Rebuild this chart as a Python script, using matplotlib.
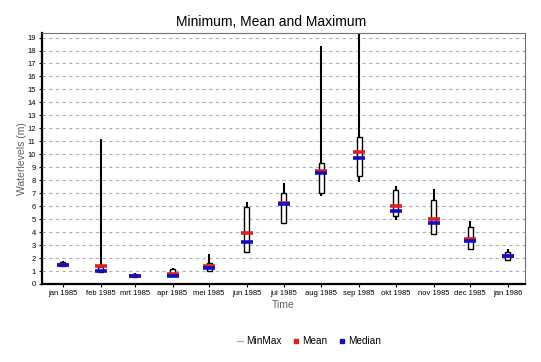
import datetime as dt
import matplotlib
matplotlib.use("Agg")
import matplotlib.pyplot as plt
import matplotlib.dates as mdates
from matplotlib.lines import Line2D

plt.rcParams["font.family"] = ["Liberation Sans", "DejaVu Sans"]

months = [dt.date(1985, m, 1) for m in range(1, 13)] + [dt.date(1986, 1, 1)]
labels = ["jan 1985", "feb 1985", "mrt 1985", "apr 1985", "mei 1985", "jun 1985",
          "jul 1985", "aug 1985", "sep 1985", "okt 1985", "nov 1985", "dec 1985",
          "jan 1986"]
vmin = [1.3, 0.9, 0.5, 0.55, 1.0, 2.37, 4.63, 6.8, 7.9, 4.94, 3.8, 2.65, 1.8]
vmax = [1.75, 11.15, 0.87, 1.2, 2.3, 6.33, 7.77, 18.35, 21.0, 7.52, 7.36, 4.84, 2.68]
q_low = [1.35, 0.95, 0.55, 0.6, 1.03, 2.5, 4.74, 7.0, 8.29, 5.25, 3.86, 2.68, 1.85]
q_high = [1.7, 1.3, 0.75, 1.15, 1.6, 5.97, 7.05, 9.32, 11.35, 7.26, 6.49, 4.38, 2.5]
mean = [1.5, 1.39, 0.62, 0.75, 1.39, 3.96, 6.25, 8.7, 10.14, 6.05, 4.99, 3.5, 2.16]
median = [1.45, 1.0, 0.6, 0.65, 1.26, 3.27, 6.15, 8.52, 9.73, 5.61, 4.74, 3.35, 2.14]

x = mdates.date2num(months)

fig = plt.figure(figsize=(5.41, 3.62), dpi=100)
ax = fig.add_axes([42 / 541, 1 - 284 / 362, (525 - 42) / 541, (284 - 33) / 362])

ax.vlines(x, vmin, vmax, color="black", lw=1.5, zorder=2)
ax.bar(x, [h - l for h, l in zip(q_high, q_low)], bottom=q_low, width=4,
       color="white", edgecolor="black", lw=1, zorder=3)
ax.plot(x, mean, ls="none", marker="_", ms=8.5, mew=2.6, color="#e02020", zorder=4)
ax.plot(x, median, ls="none", marker="_", ms=8.5, mew=2.6, color="#1010c0", zorder=5)

ax.set_xlim(mdates.date2num(dt.date(1984, 12, 15)), mdates.date2num(dt.date(1986, 1, 15)))
ax.set_ylim(0, 19.35)
ax.set_yticks(range(0, 20))
ax.set_xticks(x)
ax.set_xticklabels(labels)
ax.tick_params(labelsize=5.5, length=2.5, width=0.8, pad=2, colors="black")
ax.yaxis.grid(True, ls=(0, (3, 3)), color="#b0b0b0", lw=0.8)
ax.set_axisbelow(True)

for s in ["left", "bottom"]:
    ax.spines[s].set_linewidth(1.6)
    ax.spines[s].set_color("black")
for s in ["top", "right"]:
    ax.spines[s].set_linewidth(0.8)
    ax.spines[s].set_color("#707070")

ax.set_ylabel("Waterlevels (m)", fontsize=7.5, color="#606060", labelpad=0)
ax.yaxis.set_label_coords((27 - 42) / 483, 0.5)
ax.set_xlabel("Time", fontsize=7.5, color="#606060", labelpad=2)
fig.text(271 / 541, 1 - 22 / 362, "Minimum, Mean and Maximum", fontsize=10,
         ha="center", va="center")

handles = [
    Line2D([], [], color="#b0b0b0", lw=1, ls="-"),
    Line2D([], [], color="#e02020", marker="s", ms=3, ls="none"),
    Line2D([], [], color="#1010c0", marker="s", ms=3, ls="none"),
]
fig.legend(handles, ["MinMax", "Mean", "Median"], loc="center",
           bbox_to_anchor=(309 / 541, 1 - 341 / 362), ncol=3, frameon=False,
           fontsize=7.2, handlelength=0.6, handletextpad=0.3, columnspacing=1.2)

fig.savefig("out.png", dpi=100)
